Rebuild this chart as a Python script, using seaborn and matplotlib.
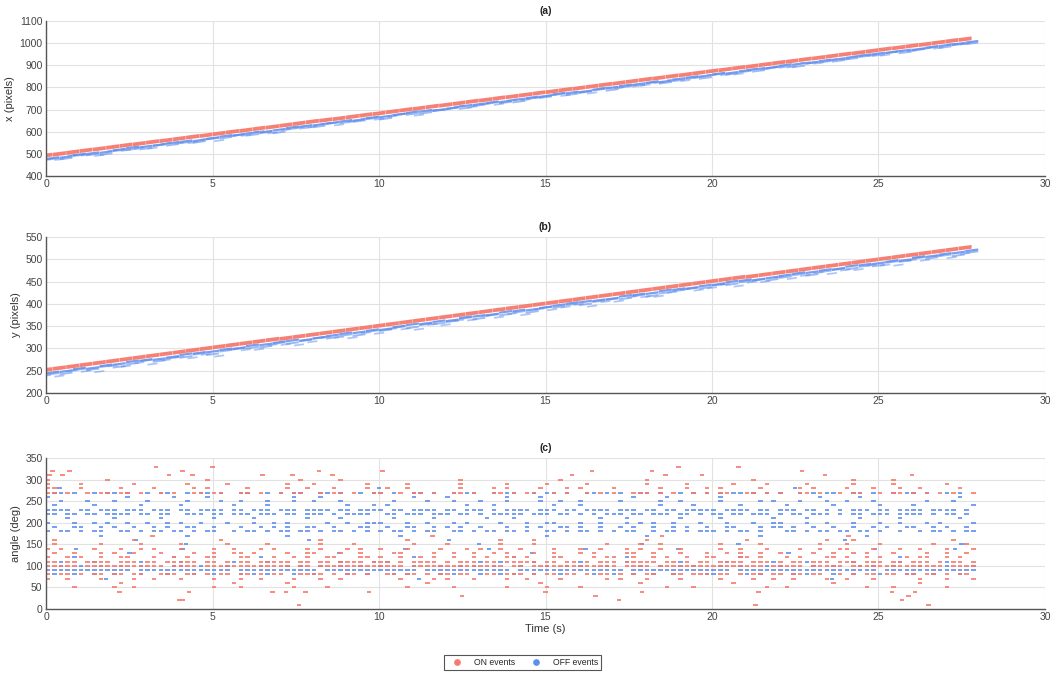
import numpy as np
import pandas as pd
import matplotlib
matplotlib.use("Agg")
import matplotlib.pyplot as plt
from matplotlib.path import Path
from matplotlib.lines import Line2D
import seaborn as sns

# ---------------- data ----------------
T_ON = [0.0, 0.4, 0.8, 1.2, 1.6, 2.0, 2.4, 2.8, 3.2, 3.6,
        4.0, 4.4, 4.8, 5.2, 5.6, 6.0, 6.4, 6.8, 7.2, 7.6,
        8.0, 8.4, 8.8, 9.2, 9.6, 10.0, 10.4, 10.8, 11.2, 11.6,
        12.0, 12.4, 12.8, 13.2, 13.6, 14.0, 14.4, 14.8, 15.2, 15.6,
        16.0, 16.4, 16.8, 17.2, 17.6, 18.0, 18.4, 18.8, 19.2, 19.6,
        20.0, 20.4, 20.8, 21.2, 21.6, 22.0, 22.4, 22.8, 23.2, 23.6,
        24.0, 24.4, 24.8, 25.2, 25.6, 26.0, 26.4, 26.8, 27.2, 27.6]
T_OFF = [0.2, 0.6, 1.0, 1.4, 1.8, 2.2, 2.6, 3.0, 3.4, 3.8,
         4.2, 4.6, 5.0, 5.4, 5.8, 6.2, 6.6, 7.0, 7.4, 7.8,
         8.2, 8.6, 9.0, 9.4, 9.8, 10.2, 10.6, 11.0, 11.4, 11.8,
         12.2, 12.6, 13.0, 13.4, 13.8, 14.2, 14.6, 15.0, 15.4, 15.8,
         16.2, 16.6, 17.0, 17.4, 17.8, 18.2, 18.6, 19.0, 19.4, 19.8,
         20.2, 20.6, 21.0, 21.4, 21.8, 22.2, 22.6, 23.0, 23.4, 23.8,
         24.2, 24.6, 25.0, 25.4, 25.8, 26.2, 26.6, 27.0, 27.4, 27.8]

# (a) x position of ON events (pixels)
XA_ON = [493, 500, 508, 516, 523, 531, 539, 546, 554, 561,
         569, 577, 584, 592, 600, 607, 615, 622, 630, 638,
         646, 653, 660, 668, 676, 683, 691, 699, 706, 714,
         721, 729, 737, 744, 752, 759, 767, 775, 782, 790,
         797, 805, 813, 820, 828, 836, 843, 851, 858, 866,
         874, 881, 889, 896, 904, 912, 919, 927, 934, 942,
         950, 957, 965, 973, 980, 988, 995, 1003, 1011, 1018]
# (a) depth of OFF events below the ON band (pixels)
XA_OFF_NEAR = [12, 14, 11, 13, 15, 12, 10, 13, 14, 11,
               12, 16, 13, 11, 14, 12, 15, 13, 10, 12,
               14, 13, 11, 15, 12, 14, 13, 11, 12, 16,
               14, 12, 13, 11, 15, 13, 12, 14, 10, 13,
               15, 12, 14, 11, 13, 12, 16, 13, 11, 14,
               12, 15, 13, 12, 14, 11, 13, 15, 12, 14,
               13, 11, 12, 14, 13, 15, 12, 13, 14, 12]
XA_OFF_MID = [16, 21, 14, 19, 24, 15, 18, 22, 13, 20,
              17, 23, 15, 19, 14, 21, 18, 25, 16, 20,
              22, 14, 18, 20, 16, 24, 13, 19, 21, 17,
              15, 22, 18, 14, 20, 23, 16, 19, 13, 21,
              18, 15, 24, 17, 20, 14, 22, 19, 16, 23,
              14, 20, 17, 21, 15, 19, 24, 16, 18, 22,
              20, 16, 19, 14, 22, 18, 15, 21, 17, 19]
XA_OFF_FAR = [18, 25, 14, 21, 30, 16, 23, 19, 28, 15,
              20, 26, 17, 32, 19, 23, 14, 27, 21, 18,
              24, 16, 29, 20, 15, 26, 22, 18, 31, 17,
              21, 14, 25, 19, 28, 16, 23, 20, 17, 26,
              19, 30, 15, 22, 18, 25, 21, 16, 27, 20,
              17, 23, 28, 14, 21, 19, 26, 16, 24, 18,
              22, 15, 20, 27, 17, 23, 19, 25, 16, 21]

# (b) y position of ON events (pixels)
YB_ON = [252, 256, 260, 264, 268, 272, 276, 280, 284, 288,
         292, 296, 300, 304, 308, 312, 316, 320, 323, 327,
         331, 335, 339, 343, 347, 351, 355, 359, 363, 367,
         371, 375, 379, 383, 387, 391, 395, 399, 403, 407,
         411, 415, 419, 423, 427, 431, 435, 439, 443, 447,
         451, 455, 459, 462, 466, 470, 474, 478, 482, 486,
         490, 494, 498, 502, 506, 510, 514, 518, 522, 526]
YB_OFF_NEAR = [6, 7, 5, 8, 6, 7, 5, 6, 8, 7,
               5, 6, 7, 6, 8, 5, 7, 6, 5, 8,
               7, 6, 5, 7, 6, 8, 6, 5, 7, 6,
               8, 5, 6, 7, 5, 6, 8, 7, 6, 5,
               6, 7, 8, 5, 6, 7, 5, 6, 8, 6,
               7, 5, 6, 8, 7, 6, 5, 7, 6, 8,
               5, 6, 7, 6, 8, 5, 7, 6, 7, 6]
YB_OFF_MID = [9, 12, 7, 11, 8, 13, 10, 7, 12, 9,
              11, 8, 13, 9, 7, 10, 12, 8, 11, 9,
              7, 11, 9, 13, 8, 10, 7, 12, 9, 11,
              10, 7, 12, 8, 11, 9, 13, 7, 10, 8,
              12, 9, 7, 11, 8, 13, 10, 9, 7, 11,
              8, 11, 9, 7, 12, 10, 8, 13, 9, 7,
              11, 9, 12, 8, 10, 7, 11, 9, 13, 10]
YB_OFF_FAR = [13, 18, 10, 15, 20, 11, 16, 12, 19, 14,
              11, 17, 13, 21, 10, 15, 18, 12, 14, 19,
              16, 10, 14, 19, 12, 17, 11, 15, 20, 13,
              18, 12, 15, 10, 17, 13, 19, 11, 16, 14,
              12, 20, 14, 17, 11, 15, 18, 13, 10, 16,
              15, 11, 19, 13, 16, 10, 17, 14, 12, 18,
              14, 17, 11, 15, 19, 12, 16, 10, 18, 13]

# (c) angle rows: occupancy of 0.2 s cells (1 = events present), from t = 0
CELL_START, CELL_STEP = 0.05, 0.2
C_ON_ROWS = {
    100: "1111101111 1111111101 1110111111 1111111011 0111111111 1111011111 1111111110 1101111111 1111110111 1011111111 1111111101 1111011111 0111111111 1111101111",
    110: "1101101111 0111011011 1110110101 1011111011 0110111101 1101011110 1011101101 1111011011 0101110111 1101101011 0111101110 1011011101 1101110110 1110101101",
    80:  "1011010110 1101100111 0110101101 1010110011 1101011010 0110110101 1011001101 1101011011 0101101010 1100110111 0110101101 1011011001 0101101101 1011010110",
    120: "1001010010 0110001001 0100110001 1000100101 0011000110 1001001010 0100101001 1010001100 0010110010 0101001001 1000110100 0101000110 1001010001 0110010100",
    130: "0100100010 1001000100 0010010011 0100001001 1000100100 0011000010 0100100101 0001001000 1010000110 0100010001 0010100100 1000010010 0101000100 0010010010",
    140: "1010000100 0100101000 1000010010 0010100001 0100010100 1000100001 0001010010 0100001000 1001000101 0010010000 0100100010 0001001001 1000100010 0100010001",
    270: "1101001011 0110100101 0011011001 1010010110 0101101001 1001011010 0110100110 1011001010 0101010011 1010100101 0110011010 1001101001 0110010110 1010101001",
    280: "1100010000 0100001000 0010100000 1000001001 0001000010 0100100000 0010000101 0000100010 1000010000 0010001001 0100000100 0001010000 1000100010 0100000100",
    70:  "1001000010 0001001000 1000010001 0010000100 0100100000 0001000010 1000100001 0010000100 0000101000 1000010000 0100001001 0010000100 1000100000 0100010001",
    150: "0100000010 0000100000 1000000100 0001000000 0100001000 0000010000 1000000010 0001000000 0000100001 0010000000 0100000100 0000001000 1000010000 0001000010",
    290: "1000010000 0001000000 0100000100 0000001000 1000000010 0000100000 0010000001 0000010000 0100000000 1000001000 0001000010 0000100000 0100000100 0000010000",
    50:  "0000100000 1001000000 0000010001 0000000100 0010000000 0000100000 0100000001 0000010000 1000000000 0001000100 0000000010 0100000000 0001000100 0000010000",
    160: "0100000000 0001000000 0000001000 0000000000 0100000000 0000100000 0000000010 0001000000 0000000000 1000000000 0000010000 0000000100 0100000000 0000001000",
    60:  "0000000000 0100000000 0000000010 0000001000 0000000000 0000000100 0000000000 0000100000 0000000001 0000000000 0001000000 0000000010 0000000000 0100000000",
    300: "1000000001 0000000000 0000100000 0000000010 0000100000 0000000000 0010000000 0000000100 0000000000 1000000000 0000001000 0000000000 0100000100 0000000000",
}
C_OFF_ROWS = {
    90:  "1111111111 1110111111 1111111101 1111111111 1011111111 1111110111 1111111111 0111111111 1111111011 1111111111 1110111111 1111111111 1111101111 1111111111",
    230: "1111011011 1011101110 1101111011 0111011101 1110110111 1011011110 1101110101 1110111011 0111101110 1101101111 1011110110 1110110101 0111011011 1101111010",
    220: "1101101101 1110110110 0111011011 1011101101 1101011110 0110111011 1011010111 1101110110 1010111011 0111011010 1101101110 1011011101 0110111011 1101011010",
    180: "1011010110 0110101101 1010110010 1101011011 0101101010 1011010110 0110101101 1010011010 1101010110 0101101011 1010110100 0110101101 1011010010 0101101011",
    190: "0100110010 1001001010 0110010001 0010101001 1001000110 0100110010 1010010001 0010100110 1001001010 0100101001 0011000101 1010010010 0100101001 1001010010",
    200: "1000100101 0010010010 1001000100 0100101000 0010010011 1000100100 0101000010 0010011000 1001000101 0100100010 0010001001 1000100100 0100010010 0010100001",
    270: "0110100101 1010010110 0101101001 1001010110 0110100101 1010011010 0101100101 1001011010 0110101001 1010010101 0101101010 1001010110 0110100101 1010010100",
    250: "0010001000 1000010000 0100001001 0001000100 1000100000 0010000100 0100010001 0000100100 1000001000 0010010000 0100000101 0001000100 1000100000 0010001000",
    80:  "0100100100 1000100010 0010010001 0101000100 1000010010 0010100001 0100010010 1001000100 0010010010 0100100001 1000010100 0010100010 0100010001 1001000100",
    100: "0010010010 0100100001 1001000100 0010001010 0100100100 1000010001 0010100100 0100010010 1000100001 0010010100 0100100010 1000010010 0010100100 0100010001",
    210: "0001000000 1000000100 0000010000 0100000001 0000100000 0010000010 0000001000 1000000000 0001000100 0000010000 0100000001 0000100000 0010000010 0000000100",
    240: "0100000100 0000100000 1000000010 0001000000 0000010001 0100000000 0001000100 0000001000 1000000000 0010000100 0000100000 0100000010 0000010000 1000000001",
    260: "1000000000 0010000001 0000100000 0000000100 0100000000 0000010000 1000000001 0000100000 0000000010 0001000000 0100000000 0000001000 0010000000 0000000100",
    110: "0010000100 0000100000 1000000010 0001000000 0000100001 0100000000 0000010010 0001000000 1000000100 0000010000 0010000001 0000100000 0100000010 0000010000",
    170: "0000000010 0000000000 0100000000 0000001000 0000000000 0001000000 0000000000 0000010000 0000000000 1000000000 0000000100 0000000000 0001000000 0000000000",
    120: "0000100000 0000000001 0000000000 0010000000 0000000000 0000010000 0000000000 1000000000 0000000100 0000000000 0000100000 0000000000 0000000010 0000000000",
}
# (c) isolated events: angle -> times (s)
C_ON_SPARSE = {
    310: [0.1, 0.5, 3.7, 4.4, 6.5, 7.4, 8.6, 15.8, 18.6, 19.7, 23.4, 26.0],
    320: [0.2, 0.7, 4.1, 8.2, 10.1, 16.4, 18.2, 22.7],
    330: [3.3, 5.0, 19.0, 20.8],
    40: [2.2, 4.3, 6.8, 7.2, 7.8, 9.7, 15.0, 17.9, 21.4, 25.4, 26.1],
    30: [12.5, 16.5, 25.9],
    20: [4.0, 4.1, 17.2, 25.7],
    10: [7.6, 21.3, 26.5],
    170: [3.2, 11.6, 18.5, 24.1],
}
C_OFF_SPARSE = {
    280: [0.4, 10.0, 22.5],
    160: [2.7, 7.9, 12.1, 24.0],
    150: [4.2, 13.0, 17.9, 20.8, 27.5],
    140: [0.9, 4.1, 10.8, 13.3, 16.2, 19.0, 24.9, 27.3],
    130: [2.5, 8.8, 14.6, 22.3],
    70: [1.8, 11.2, 23.6],
}

LEGEND_LABELS = ["ON events", "OFF events"]
TITLES = ["(a)", "(b)", "(c)"]
YLABELS = ["x (pixels)", "y (pixels)", "angle (deg)"]
XLABEL = "Time (s)"
X_TICKS = [0, 5, 10, 15, 20, 25, 30]
YTICKS_A = [400, 500, 600, 700, 800, 900, 1000, 1100]
YTICKS_B = [200, 250, 300, 350, 400, 450, 500, 550]
YTICKS_C = [0, 50, 100, 150, 200, 250, 300, 350]

# ---------------- style ----------------
sns.set_theme(style="white")
plt.rcParams["font.family"] = ["Liberation Sans", "DejaVu Sans"]
plt.rcParams["legend.fancybox"] = False

ON_COLOR = "#F7796C"
OFF_COLOR = "#5F8FEE"
PAL = {"ON": ON_COLOR, "OFF": OFF_COLOR}


def slanted_dash(width, height, slope=0.0):
    hw, hh = width / 2.0, height / 2.0
    d = hw * slope
    verts = [(-hw, -hh - d), (hw, -hh + d), (hw, hh + d), (-hw, hh - d), (-hw, -hh - d)]
    codes = [Path.MOVETO, Path.LINETO, Path.LINETO, Path.LINETO, Path.CLOSEPOLY]
    return Path(verts, codes)


PX = 72.0 / 100.0  # points per pixel
def size_for(width_px):
    return (width_px * PX) ** 2

ON_BAND = slanted_dash(13, 3.8, 0.13)
OFF_BAND = slanted_dash(13, 2.2, 0.13)
OFF_MID = slanted_dash(13, 2.0, 0.13)
OFF_FAR = slanted_dash(10, 1.8, 0.13)
ROW_DOT = slanted_dash(4.5, 2.0)


def band_frames(on_vals, near, mid, far):
    on = pd.DataFrame({"t": T_ON, "v": on_vals, "kind": "ON"})
    on_arr = np.asarray(on_vals, float)
    near_df = pd.DataFrame({"t": T_OFF, "v": on_arr - np.asarray(near), "kind": "OFF"})
    mid_df = pd.DataFrame({"t": T_OFF, "v": on_arr - np.asarray(mid), "kind": "OFF"})
    far_df = pd.DataFrame({"t": T_ON, "v": on_arr - np.asarray(far), "kind": "OFF"})
    return on, near_df, mid_df, far_df


def rows_frame(rows, sparse, kind):
    recs = []
    for level, mask in rows.items():
        cells = mask.replace(" ", "")
        for i, ch in enumerate(cells):
            if ch == "1":
                recs.append((CELL_START + CELL_STEP * i, level))
    for level, times in sparse.items():
        for t in times:
            recs.append((t, level))
    df = pd.DataFrame(recs, columns=["t", "v"])
    df["kind"] = kind
    return df


fig = plt.figure(figsize=(10.51, 6.73), dpi=100)
L, W = 46 / 1051, 999 / 1051
ax_a = fig.add_axes([L, 1 - 176 / 673, W, 155 / 673])
ax_b = fig.add_axes([L, 1 - 393 / 673, W, 156 / 673])
ax_c = fig.add_axes([L, 1 - 609 / 673, W, 151 / 673])

for ax, on_vals, near, mid, far in [
    (ax_a, XA_ON, XA_OFF_NEAR, XA_OFF_MID, XA_OFF_FAR),
    (ax_b, YB_ON, YB_OFF_NEAR, YB_OFF_MID, YB_OFF_FAR),
]:
    on, near_df, mid_df, far_df = band_frames(on_vals, near, mid, far)
    sns.scatterplot(data=far_df, x="t", y="v", hue="kind", palette=PAL, marker=OFF_FAR,
                    s=size_for(10), linewidth=0, alpha=0.5, legend=False, ax=ax)
    sns.scatterplot(data=mid_df, x="t", y="v", hue="kind", palette=PAL, marker=OFF_MID,
                    s=size_for(13), linewidth=0, alpha=0.6, legend=False, ax=ax)
    sns.scatterplot(data=near_df, x="t", y="v", hue="kind", palette=PAL, marker=OFF_BAND,
                    s=size_for(13), linewidth=0, alpha=0.85, legend=False, ax=ax)
    sns.scatterplot(data=on, x="t", y="v", hue="kind", palette=PAL, marker=ON_BAND,
                    s=size_for(13), linewidth=0, alpha=0.95, legend=False, ax=ax)

off_c = rows_frame(C_OFF_ROWS, C_OFF_SPARSE, "OFF")
on_c = rows_frame(C_ON_ROWS, C_ON_SPARSE, "ON")
sns.scatterplot(data=off_c, x="t", y="v", hue="kind", palette=PAL, marker=ROW_DOT,
                s=size_for(4.5), linewidth=0, alpha=0.85, legend=False, ax=ax_c)
sns.scatterplot(data=on_c, x="t", y="v", hue="kind", palette=PAL, marker=ROW_DOT,
                s=size_for(4.5), linewidth=0, alpha=0.85, legend=False, ax=ax_c)

for ax, title, ylab, yt in [(ax_a, TITLES[0], YLABELS[0], YTICKS_A),
                            (ax_b, TITLES[1], YLABELS[1], YTICKS_B),
                            (ax_c, TITLES[2], YLABELS[2], YTICKS_C)]:
    ax.set_xlim(0, 30)
    ax.set_ylim(yt[0], yt[-1])
    ax.set_xticks(X_TICKS)
    ax.set_yticks(yt)
    ax.set_xticklabels([str(v) for v in X_TICKS])
    ax.set_yticklabels([str(v) for v in yt])
    ax.grid(True, color="#e2e2e2", linewidth=0.8)
    ax.set_axisbelow(True)
    for side in ["top", "right"]:
        ax.spines[side].set_visible(False)
    for side in ["left", "bottom"]:
        ax.spines[side].set_color("#555555")
        ax.spines[side].set_linewidth(1.0)
    ax.tick_params(axis="both", direction="in", length=7, width=0.8, color="#555555",
                   labelsize=7.5, labelcolor="#444444", pad=2.5)
    ax.set_title(title, fontsize=7.5, fontweight="bold", color="#222222", pad=5)
    ax.set_ylabel(ylab, fontsize=8, color="#333333", labelpad=3)
    ax.set_xlabel("")
ax_c.set_xlabel(XLABEL, fontsize=8, color="#333333", labelpad=1)

handles = [Line2D([], [], marker="o", linestyle="", markersize=3.8,
                  markerfacecolor=ON_COLOR, markeredgecolor=ON_COLOR),
           Line2D([], [], marker="o", linestyle="", markersize=3.8,
                  markerfacecolor=OFF_COLOR, markeredgecolor=OFF_COLOR)]
leg = fig.legend(handles, LEGEND_LABELS, loc="center", bbox_to_anchor=(0.4976, 0.0149),
                 ncol=2, fontsize=6.2, frameon=True, handletextpad=0.9, columnspacing=1.3,
                 borderpad=0.35, handlelength=2.2, borderaxespad=0)
leg.get_frame().set_edgecolor("#555555")
leg.get_frame().set_linewidth(0.8)
leg.get_frame().set_alpha(1)

fig.savefig("out.png", dpi=100)
